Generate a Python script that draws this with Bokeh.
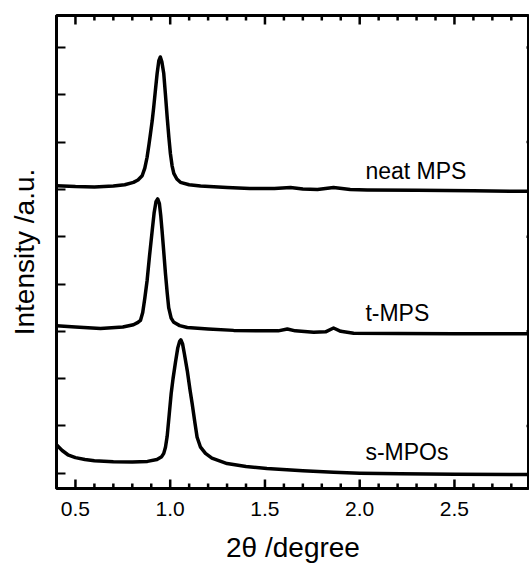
from bokeh.plotting import figure
from bokeh.models import Range1d, SingleIntervalTicker, PrintfTickFormatter
from bokeh.core.properties import value
from bokeh.embed import file_html
from bokeh.resources import INLINE

FONT = "Liberation Sans"

# ---- data ----
neat_x = [0.40, 0.50, 0.60, 0.70, 0.76, 0.806, 0.83, 0.852, 0.866, 0.878, 0.888, 0.896,
          0.905, 0.913, 0.922, 0.931, 0.940, 0.948, 0.956, 0.966, 0.975, 0.984, 0.993,
          1.001, 1.010, 1.019, 1.035, 1.054, 1.10, 1.16, 1.30, 1.42, 1.55, 1.635, 1.70,
          1.777, 1.862, 1.95, 2.04, 2.30, 2.60, 2.90]
neat_y = [6.08, 6.06, 6.05, 6.07, 6.10, 6.15, 6.20, 6.29, 6.45, 6.68, 6.95, 7.18,
          7.45, 7.74, 8.10, 8.45, 8.72, 8.80, 8.70, 8.45, 8.00, 7.53, 7.10,
          6.76, 6.50, 6.34, 6.22, 6.15, 6.10, 6.07, 6.04, 6.02, 6.02, 6.04, 6.01,
          6.00, 6.04, 6.00, 5.99, 5.98, 5.97, 5.96]

t_x = [0.40, 0.50, 0.632, 0.75, 0.806, 0.83, 0.843, 0.855, 0.866, 0.878, 0.891, 0.905,
       0.915, 0.925, 0.934, 0.943, 0.950, 0.957, 0.966, 0.975, 0.984, 0.992, 1.005,
       1.019, 1.05, 1.09, 1.20, 1.335, 1.50, 1.57, 1.618, 1.66, 1.757, 1.82, 1.862,
       1.90, 1.968, 2.20, 2.50, 2.90]
t_y = [3.12, 3.09, 3.06, 3.09, 3.14, 3.19, 3.23, 3.40, 3.70, 4.07, 4.60, 5.13,
       5.50, 5.74, 5.80, 5.70, 5.45, 5.13, 4.68, 4.22, 3.82, 3.50, 3.28,
       3.19, 3.12, 3.08, 3.05, 3.02, 3.01, 3.01, 3.05, 3.01, 2.98, 2.99, 3.07,
       3.00, 2.96, 2.955, 2.95, 2.95]

s_x = [0.40, 0.43, 0.46, 0.50, 0.55, 0.60, 0.70, 0.80, 0.88, 0.93, 0.955, 0.966, 0.975,
       0.984, 0.995, 1.005, 1.015, 1.028, 1.040, 1.050, 1.056, 1.065, 1.075, 1.090,
       1.105, 1.116, 1.130, 1.142, 1.160, 1.186, 1.22, 1.30, 1.40, 1.51, 1.70, 1.862,
       2.00, 2.215, 2.50, 2.90]
s_y = [0.60, 0.48, 0.39, 0.33, 0.29, 0.265, 0.24, 0.235, 0.25, 0.29, 0.35, 0.42, 0.55,
       0.78, 1.25, 1.68, 2.00, 2.35, 2.65, 2.79, 2.82, 2.74, 2.52, 2.17,
       1.75, 1.47, 1.08, 0.76, 0.55, 0.42, 0.32, 0.205, 0.14, 0.10, 0.05, 0.02,
       0.00, -0.013, -0.02, -0.027]

labels = ["neat MPS", "t-MPS", "s-MPOs"]
label_x = [2.03, 2.03, 2.03]
label_y = [6.40, 3.38, 0.44]

x_major = [0.5, 1.0, 1.5, 2.0, 2.5]
x_minor = [0.6, 0.7, 0.8, 0.9, 1.1, 1.2, 1.3, 1.4, 1.6, 1.7, 1.8, 1.9,
           2.1, 2.2, 2.3, 2.4, 2.6, 2.7, 2.8]
y_right_ticks = [1, 3, 5, 7, 9]

x_start, x_end = 0.40, 2.896
y_start, y_end = -0.323, 9.677

FRAME_H_PX = 570 - 15 - 82
FRAME_W_PX = 529 - 56
y_per_px = (y_end - y_start) / FRAME_H_PX
x_per_px = (x_end - x_start) / FRAME_W_PX
MAJOR_LEN = 9 * y_per_px
MINOR_LEN = 5 * y_per_px

p = figure(width=529, height=570, output_backend="svg", toolbar_location=None,
           x_range=Range1d(x_start, x_end), y_range=Range1d(y_start, y_end),
           min_border_left=56, min_border_right=0, min_border_top=15, min_border_bottom=82)
p.outline_line_color = "black"
p.outline_line_width = 3
p.xgrid.visible = False
p.ygrid.visible = False

for xs, ys in [(neat_x, neat_y), (t_x, t_y), (s_x, s_y)]:
    p.line(xs, ys, line_color="black", line_width=3.5, line_join="round", line_cap="round")

p.text(x=label_x, y=label_y, text=labels, text_font=value(FONT), text_font_size="23px",
       text_color="black", text_baseline="alphabetic", text_align="left")

# inward tick marks on the bottom and top frame edges
for ticks, length in [(x_major, MAJOR_LEN), (x_minor, MINOR_LEN)]:
    n = len(ticks)
    p.segment(x0=ticks, y0=[y_start] * n, x1=ticks, y1=[y_start + length] * n,
              line_color="black", line_width=2.5)
    p.segment(x0=ticks, y0=[y_end] * n, x1=ticks, y1=[y_end - length] * n,
              line_color="black", line_width=2.5)
# tips of the right-hand ticks
nr = len(y_right_ticks)
p.segment(x0=[x_end] * nr, y0=y_right_ticks, x1=[x_end - 3 * x_per_px] * nr, y1=y_right_ticks,
          line_color="black", line_width=2.5)

# bottom axis
xa = p.xaxis[0]
xa.ticker = SingleIntervalTicker(interval=0.5, num_minor_ticks=0)
xa.formatter = PrintfTickFormatter(format="%.1f")
xa.axis_line_color = None
xa.major_tick_in = 0
xa.major_tick_out = 0
xa.minor_tick_in = 0
xa.minor_tick_out = 0
xa.major_label_text_font = FONT
xa.major_label_text_font_size = "21px"
xa.major_label_text_color = "black"
xa.major_label_standoff = 13
xa.axis_label = "2θ /degree"
xa.axis_label_text_font = FONT
xa.axis_label_text_font_size = "28px"
xa.axis_label_text_font_style = "normal"
xa.axis_label_text_color = "black"
xa.axis_label_standoff = 13

# left axis
ya = p.yaxis[0]
ya.ticker = SingleIntervalTicker(interval=1, num_minor_ticks=0)
ya.axis_line_color = "black"
ya.axis_line_width = 3
ya.major_tick_line_color = "black"
ya.major_tick_line_width = 2
ya.major_tick_in = 9
ya.major_tick_out = 0
ya.minor_tick_in = 0
ya.minor_tick_out = 0
ya.major_label_text_alpha = 0
ya.major_label_standoff = 0
ya.major_label_text_font_size = "10px"
ya.axis_label = "Intensity /a.u."
ya.axis_label_text_font = FONT
ya.axis_label_text_font_size = "28px"
ya.axis_label_text_font_style = "normal"
ya.axis_label_text_color = "black"
ya.axis_label_standoff = 17

open("out.html", "w").write(file_html(p, INLINE))
